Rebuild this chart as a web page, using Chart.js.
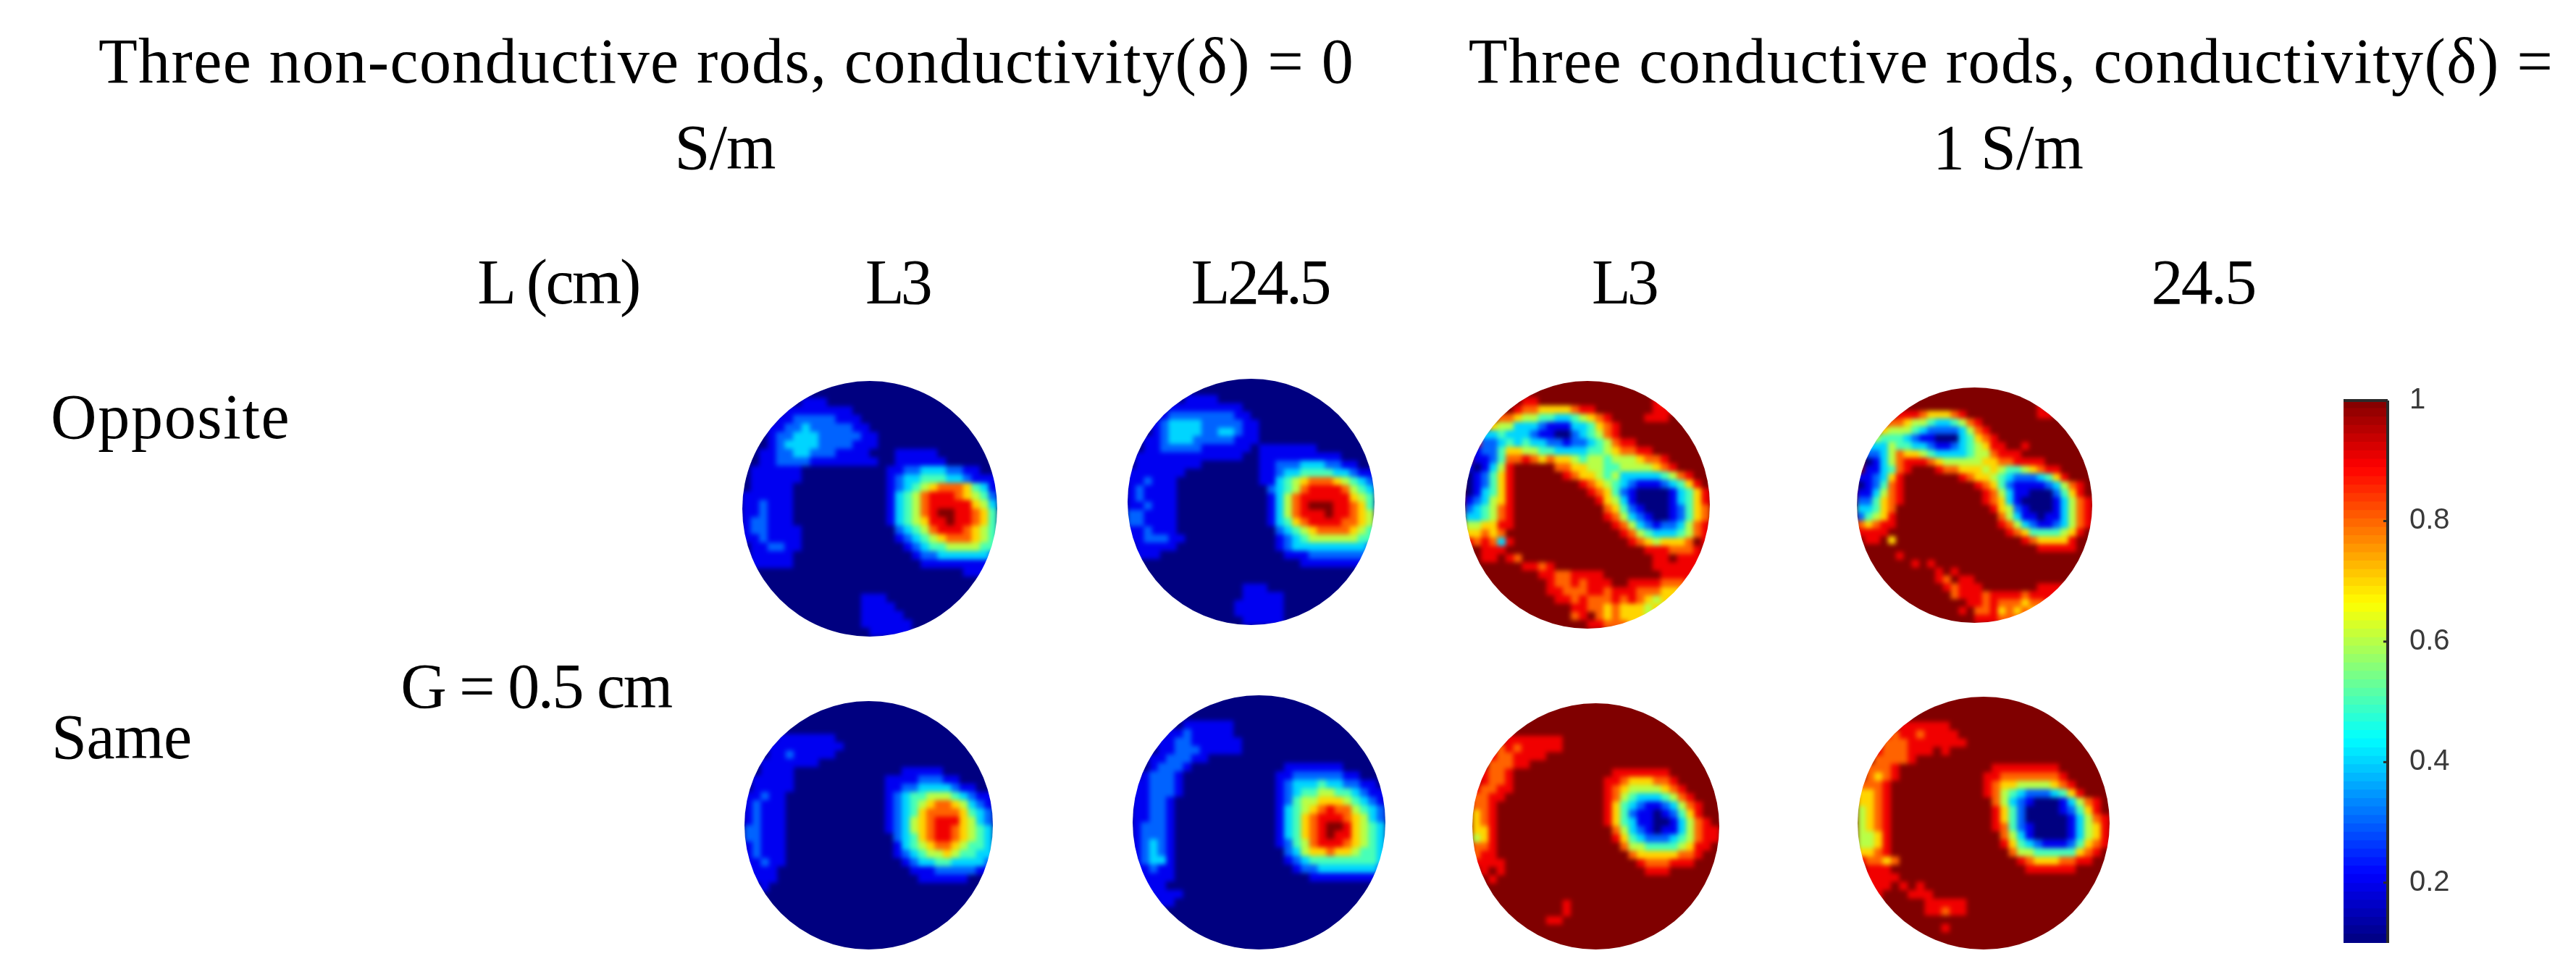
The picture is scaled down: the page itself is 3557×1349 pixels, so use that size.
<!DOCTYPE html>
<html lang="en">
<head>
<meta charset="UTF-8" />
<title>Three rods conductivity maps</title>
<style>
  html, body { margin: 0; padding: 0; background: #fff; width: 3557px; height: 1349px; overflow: hidden; }
  .lbl { position: absolute; font-family: "Liberation Serif", serif; font-size: 88px; color: #000; white-space: nowrap; line-height: 1; }
  .mid { transform: translate(-50%, -50%); }
  .left { transform: translate(0, -50%); }
  canvas { position: absolute; }
  canvas.disc { filter: blur(3px); padding: 12px; }
</style>
</head>
<body>
<script src="https://cdn.jsdelivr.net/npm/chart.js"></script>
<script>
// one digit per cell: index into levelValues
const levelValues = [0.1, 0.2, 0.3, 0.4, 0.5, 0.6, 0.7, 0.8, 0.9, 1.0];

const oppositeL3Plain = [
"00000 00000 00000 00000 00000 00000",
"00000 00000 00000 00000 00000 00000",
"00000 00111 00000 00000 00000 00000",
"00000 11111 11100 00000 00000 00000",
"00001 12222 21110 00000 00000 00000",
"00011 22322 22211 00000 00000 00000",
"00012 23332 22221 10000 00000 00000",
"00012 33332 22211 10000 00000 00000",
"00112 23322 21111 00011 11100 00000",
"00112 22211 11111 10011 11110 00000",
"01111 11000 00000 00112 23332 21100",
"01111 11000 00000 00123 34443 32111",
"01111 10000 00000 00123 45677 76431",
"11111 10000 00000 00134 57888 76542",
"11211 10000 00000 00134 57888 88653",
"11211 10000 00000 00134 57899 88764",
"12211 10000 00000 00134 56889 88764",
"12211 11000 00000 00023 45788 87654",
"11211 11000 00000 00012 34567 77654",
"01122 11000 00000 00001 23445 55544",
"01111 10000 00000 00000 12233 33332",
"01111 10000 00000 00000 01111 11111",
"00000 00000 00000 00000 00000 01110",
"00000 00000 00000 00000 00000 00000",
"00000 00000 00000 00000 00000 00000",
"00000 00000 00001 11000 00000 00000",
"00000 00000 00001 11100 00000 00000",
"00000 00000 00001 11110 00000 00000",
"00000 00000 00001 11111 00000 00000",
"00000 00000 00000 11111 00000 00000"
];

const oppositeL245Plain = [
"00000 00000 00000 00000 00000 00000",
"00000 00000 00000 00000 00000 00000",
"00000 00111 10000 00000 00000 00000",
"00000 11111 11110 00000 00000 00000",
"00001 22222 22211 00000 00000 00000",
"00012 33332 22221 10000 00000 00000",
"00012 33332 23321 10000 00000 00000",
"00112 33322 22211 10000 00000 00000",
"00112 22221 11111 01111 11100 00000",
"01111 11111 11110 01111 11111 10000",
"01111 11110 00000 01122 23332 21100",
"11111 11000 00000 01123 34444 33211",
"11211 10000 00000 01134 56777 65432",
"12111 10000 00000 00234 57888 87543",
"12111 10000 00000 00135 78888 88654",
"11211 10000 00000 00135 78999 88764",
"22111 10000 00000 00135 78889 88765",
"22111 10000 00000 00134 67888 87765",
"11211 10000 00000 00023 45677 77654",
"11222 11000 00000 00012 34555 55544",
"01111 10000 00000 00012 33333 33332",
"01110 00000 00000 00001 11222 22221",
"00000 00000 00000 00000 01111 11110",
"00000 00000 00000 00000 00000 00000",
"00000 00000 00000 00000 00000 00000",
"00000 00000 00001 11000 00000 00000",
"00000 00000 00001 11110 00000 00000",
"00000 00000 00011 11110 00000 00000",
"00000 00000 00011 11110 00000 00000",
"00000 00000 00001 11110 00000 00000"
];

const oppositeL3Conductive = [
"99999 99999 99999 99999 99999 99999",
"99999 99999 99999 99999 99999 99999",
"99999 99889 99999 99999 99987 99999",
"99999 98776 66678 89999 99988 88999",
"99997 76554 43345 67899 99888 99999",
"99965 53332 11133 46789 99999 99999",
"99334 33321 10023 45789 99999 99999",
"98223 43433 22122 34578 89999 99999",
"91224 66554 43333 44567 78899 99999",
"91124 77876 76654 55455 56778 99999",
"10135 89999 97766 55445 55567 89999",
"01246 89999 99876 65453 33334 57899",
"01246 89999 99998 76543 21112 34689",
"01346 89999 99999 87642 10000 13468",
"12356 89999 99999 98653 10000 13468",
"23457 89999 99999 99764 21000 12467",
"33457 89999 99999 99875 32100 12467",
"55668 89999 99999 99987 53212 23578",
"66767 99999 99999 99998 75433 34578",
"87873 89999 99999 99999 87656 66798",
"99888 99999 99999 99999 99888 77789",
"99889 87999 99999 99999 99988 98889",
"99999 99887 89999 99999 99988 88889",
"99999 99998 87788 88999 99998 88899",
"99999 99999 87787 88899 88887 77889",
"99999 99999 88777 88788 87776 66789",
"99999 99999 98878 77787 87656 67899",
"99999 99999 99988 77676 66565 69999",
"99999 99999 99978 97676 66566 99999",
"99999 99999 99999 88777 66699 99999"
];

const oppositeL245Conductive = [
"99999 99999 99999 99999 99999 99999",
"99999 99999 99999 99999 99999 99999",
"99999 99999 99999 99999 99989 99999",
"99999 88876 66789 99999 99988 99999",
"99987 76554 33457 89999 99999 99999",
"99965 55432 22235 78999 99999 99999",
"99544 43211 00034 67899 99999 99999",
"93335 44332 11234 56889 98999 99999",
"92235 76654 33334 55788 89999 99999",
"90135 78887 65555 56677 88889 99999",
"91134 78999 87766 65654 45678 89999",
"11236 89999 99987 66543 22234 68999",
"01247 89999 99999 87642 11112 35789",
"11357 89999 99999 98753 11000 24689",
"22467 89999 99999 98763 10000 13578",
"33467 99999 99999 99865 21000 13578",
"24568 99999 99999 99975 31101 13578",
"76788 99999 99999 99987 53211 23578",
"88889 99999 99999 99998 76444 45689",
"98896 99999 99999 99999 98766 66899",
"99999 99999 99999 99999 99988 88899",
"99999 89999 99999 99999 99999 99999",
"99999 99898 99999 99999 99999 99999",
"99999 99999 89899 99999 99999 99999",
"99999 99999 87988 99999 99999 99999",
"99999 99999 98788 89999 99988 88899",
"99999 99999 99788 87888 87888 88999",
"99999 99999 99998 87877 76778 89999",
"99999 99999 99989 77867 67667 99999",
"99999 99999 99999 88877 77999 99999"
];

const sameL3Plain = [
"00000 00000 00000 00000 00000 00000",
"00000 00000 00000 00000 00000 00000",
"00000 00000 00000 00000 00000 00000",
"00000 00000 00000 00000 00000 00000",
"00001 11111 10000 00000 00000 00000",
"00011 11111 11000 00000 00000 00000",
"00011 21111 10000 00000 00000 00000",
"00111 11110 00000 00000 00000 00000",
"00111 10000 00000 00001 11110 00000",
"01111 10000 00000 00111 12221 10000",
"01111 10000 00000 00112 23333 21100",
"11211 00000 00000 00123 44555 43211",
"12111 00000 00000 00123 45677 65321",
"12111 00000 00000 00123 46777 76432",
"12111 00000 00000 00123 56788 86532",
"22111 00000 00000 00123 56788 76543",
"22111 00000 00000 00023 46788 76543",
"12111 00000 00000 00013 45677 65443",
"12111 00000 00000 00012 34556 54433",
"11211 00000 00000 00001 23344 33332",
"11110 00000 00000 00000 11122 22211",
"01110 00000 00000 00000 01111 11000",
"00100 00000 00000 00000 00000 00000",
"00000 00000 00000 00000 00000 00000",
"00000 00000 00000 00000 00000 00000",
"00000 00000 00000 00000 00000 00000",
"00000 00000 00000 00000 00000 00000",
"00000 00000 00000 00000 00000 00000",
"00000 00000 00000 00000 00000 00000",
"00000 00000 00000 00000 00000 00000"
];

const sameL245Plain = [
"00000 00000 00000 00000 00000 00000",
"00000 00000 00000 00000 00000 00000",
"00000 00000 00000 00000 00000 00000",
"00000 01111 11000 00000 00000 00000",
"00001 12111 11000 00000 00000 00000",
"00011 22111 11100 00000 00000 00000",
"00011 22211 11100 00000 00000 00000",
"00112 22110 00000 00000 00000 00000",
"00122 21000 00000 00011 11111 00000",
"01222 10000 00000 00112 22222 11000",
"11222 10000 00000 00123 33433 22110",
"11222 10000 00000 00123 44554 43211",
"11221 00000 00000 00124 55666 54321",
"11221 00000 00000 00134 56787 75432",
"11221 00000 00000 00134 67888 76532",
"12221 00000 00000 00134 67899 86543",
"12221 00000 00000 00134 67898 86543",
"12321 00000 00000 00124 57888 76543",
"12321 00000 00000 00023 56676 65443",
"12331 00000 00000 00012 34444 44443",
"11211 00000 00000 00001 22333 33332",
"11111 00000 00000 00000 01111 11110",
"01110 00000 00000 00000 00000 00000",
"01111 10000 00000 00000 00000 00000",
"00011 00000 00000 00000 00000 00000",
"00000 00000 00000 00000 00000 00000",
"00000 00000 00000 00000 00000 00000",
"00000 00000 00000 00000 00000 00000",
"00000 00000 00000 00000 00000 00000",
"00000 00000 00000 00000 00000 00000"
];

const sameL3Conductive = [
"99999 99999 99999 99999 99999 99999",
"99999 99999 99999 99999 99999 99999",
"99999 99999 99999 99999 99999 99999",
"99999 99999 99999 99999 99999 99999",
"99998 88888 89999 99999 99999 99999",
"99978 78888 89999 99999 99999 99999",
"99877 88889 99999 99999 99999 99999",
"99777 88999 99999 99999 99999 99999",
"98778 99999 99999 99888 88889 99999",
"98778 99999 99999 98876 66778 99999",
"87788 99999 99999 98765 55567 89999",
"77889 99999 99999 98754 33345 78999",
"77899 99999 99999 98643 21123 57899",
"67899 99999 99999 98642 11012 46899",
"67899 99999 99999 98643 11001 35789",
"66899 99999 99999 99753 21011 35788",
"56899 99999 99999 99864 32223 45788",
"77899 99999 99999 99975 54444 56889",
"78899 99999 99999 99997 66666 77899",
"88889 99999 99999 99999 87778 88999",
"98989 99999 99999 99999 98889 99999",
"99899 99999 99999 99999 99999 99999",
"99999 99999 99999 99999 99999 99999",
"99999 99999 99999 99999 99999 99999",
"99999 99999 98999 99999 99999 99999",
"99999 99999 98999 99999 99999 99999",
"99999 99998 89999 99999 99999 99999",
"99999 99999 99999 99999 99999 99999",
"99999 99999 99999 99999 99999 99999",
"99999 99999 99999 99999 99999 99999"
];

const sameL245Conductive = [
"99999 99999 99999 99999 99999 99999",
"99999 99999 99999 99999 99999 99999",
"99999 99999 99999 99999 99999 99999",
"99999 88888 89999 99999 99999 99999",
"99987 88788 88999 99999 99999 99999",
"99977 78888 88899 99999 99999 99999",
"99877 78889 89999 99999 99999 99999",
"99777 78999 99999 99999 99999 99999",
"97778 99999 99999 98888 88889 99999",
"97678 99999 99999 88777 77778 99999",
"77789 99999 99999 87665 55567 89999",
"66789 99999 99999 87543 22234 68999",
"66789 99999 99999 97532 10001 35789",
"56789 99999 99999 98642 00001 24689",
"56789 99999 99999 98642 00000 13578",
"56789 99999 99999 98742 10000 13568",
"55689 99999 99999 99753 10000 13568",
"55689 99999 99999 99864 32111 24678",
"66789 99999 99999 99975 54444 46789",
"87767 99999 99999 99998 76667 78899",
"98889 99999 99999 99999 88888 89999",
"98888 99999 99999 99999 99999 99999",
"98889 89899 99999 99999 99999 99999",
"99899 98889 99999 99999 99999 99999",
"99999 99988 88899 99999 99999 99999",
"99999 99988 78899 99999 99999 99999",
"99999 99999 99999 99999 99999 99999",
"99999 99999 89999 99999 99999 99999",
"99999 99999 99999 99999 99999 99999",
"99999 99999 99999 99999 99999 99999"
];

// colour bar
const colorbarEdges = [0.100,0.114,0.128,0.142,0.156,0.170,0.184,0.198,0.213,0.227,0.241,0.255,0.269,0.283,0.297,0.311,
  0.325,0.339,0.353,0.367,0.381,0.395,0.409,0.423,0.438,0.452,0.466,0.480,0.494,0.508,0.522,0.536,
  0.550,0.564,0.578,0.592,0.606,0.620,0.634,0.648,0.663,0.677,0.691,0.705,0.719,0.733,0.747,0.761,
  0.775,0.789,0.803,0.817,0.831,0.845,0.859,0.873,0.888,0.902,0.916,0.930,0.944,0.958,0.972,0.986,1.000];
const colorbarTicks = [0.2, 0.4, 0.6, 0.8, 1];
const colorbarTickLabels = ["0.2", "0.4", "0.6", "0.8", "1"];

// [x, y, width, height] of each map on the page
const discs = [
  { rows: oppositeL3Plain,        box: [1025, 526, 352, 353] },
  { rows: oppositeL245Plain,      box: [1557, 523, 341, 340] },
  { rows: oppositeL3Conductive,   box: [2023, 526, 338, 342] },
  { rows: oppositeL245Conductive, box: [2564, 535, 325, 325] },
  { rows: sameL3Plain,            box: [1028, 968, 343, 343] },
  { rows: sameL245Plain,          box: [1564, 960, 349, 351] },
  { rows: sameL3Conductive,       box: [2033, 971, 341, 340] },
  { rows: sameL245Conductive,     box: [2565, 962, 348, 349] }
];

// text, centre or left x, centre y, class, letter spacing
const texts = [
  ["Three non-conductive rods, conductivity(δ) = 0", 1003, 85, "mid", 1.4],
  ["S/m", 1001, 204, "mid", -1],
  ["Three conductive rods, conductivity(δ) =", 2777, 85, "mid", 1.4],
  ["1 S/m", 2773, 204, "mid", 0],
  ["L (cm)", 771, 390, "mid", -2.5],
  ["L3", 1239, 390, "mid", -5],
  ["L24.5", 1740, 390, "mid", -3.5],
  ["L3", 2242, 390, "mid", -5],
  ["24.5", 3042, 390, "mid", -2.7],
  ["Opposite", 70, 576, "left", 1.7],
  ["G = 0.5 cm", 740, 948, "mid", -2.3],
  ["Same", 71, 1018, "left", -0.5]
];

texts.forEach(([str, x, y, cls, spacing]) => {
  const d = document.createElement("div");
  d.className = "lbl " + cls;
  d.textContent = str;
  d.style.left = x + "px";
  d.style.top = y + "px";
  d.style.letterSpacing = spacing + "px";
  document.body.appendChild(d);
});

// MATLAB jet over the colour bar range
function jet(v) {
  const t = (v - 0.1) / 0.9;
  const ch = o => Math.round(255 * Math.max(0, Math.min(1, 1.5 - Math.abs(4 * t - o))));
  return `rgb(${ch(3)},${ch(2)},${ch(1)})`;
}

function addCanvas(x, y, w, h, cls) {
  const c = document.createElement("canvas");
  c.width = w;
  c.height = h;
  c.style.left = x + "px";
  c.style.top = y + "px";
  c.style.width = w + "px";
  c.style.height = h + "px";
  c.style.boxSizing = "content-box";
  if (cls) c.className = cls;
  document.body.appendChild(c);
  return c;
}

const cellsAcross = 30;
const discPad = 12;

discs.forEach(({ rows, box }) => {
  const [x, y, w, h] = box;
  const points = [];
  const colors = [];
  rows.forEach((row, r) => {
    row.replace(/ /g, "").split("").forEach((ch, c) => {
      points.push({ x: c + 0.5, y: r + 0.5 });
      colors.push(jet(levelValues[+ch]));
    });
  });
  const canvas = addCanvas(x - discPad, y - discPad, w, h, "disc");
  // the padding keeps the blur's soft border away from the round clip
  canvas.style.background = jet(levelValues[+rows[0][0]]);
  canvas.style.clipPath = `ellipse(${w / 2}px ${h / 2}px at center)`;
  new Chart(canvas, {
    type: "scatter",
    data: {
      datasets: [{
        data: points,
        pointStyle: "rect",
        pointRadius: (w / cellsAcross) / Math.SQRT2 + 0.6,
        pointBackgroundColor: colors,
        pointBorderWidth: 0,
        clip: false
      }]
    },
    options: {
      responsive: false,
      animation: false,
      events: [],
      // no inset for the point size, cells must fill the whole canvas
      layout: { padding: 0, autoPadding: false },
      plugins: { legend: { display: false }, tooltip: { enabled: false } },
      scales: {
        x: { type: "linear", min: 0, max: cellsAcross, display: false },
        y: { type: "linear", min: 0, max: cellsAcross, reverse: true, display: false }
      }
    }
  });
});

// colour bar: one floating bar per colour step, ticks come from the y scale
const barFrame = {
  id: "barFrame",
  afterDraw(chart) {
    const { ctx, chartArea: a, scales } = chart;
    ctx.save();
    ctx.strokeStyle = "#2b2b2b";
    ctx.lineWidth = 4;
    ctx.beginPath();
    ctx.moveTo(a.left, a.top);
    ctx.lineTo(a.right, a.top);
    ctx.moveTo(a.right, a.top);
    ctx.lineTo(a.right, a.bottom);
    ctx.stroke();
    ctx.lineWidth = 3;
    colorbarTicks.forEach(v => {
      const py = scales.y.getPixelForValue(v);
      ctx.beginPath();
      ctx.moveTo(a.right - 6, py);
      ctx.lineTo(a.right, py);
      ctx.stroke();
    });
    ctx.restore();
  }
};

new Chart(addCanvas(3236, 507, 321, 841), {
  type: "bar",
  data: {
    labels: ["bar"],
    datasets: colorbarEdges.slice(0, -1).map((lo, i) => ({
      data: [[lo, colorbarEdges[i + 1] + 0.001]],
      backgroundColor: jet((lo + colorbarEdges[i + 1]) / 2),
      grouped: false,
      barPercentage: 1,
      categoryPercentage: 1,
      borderWidth: 0
    }))
  },
  options: {
    responsive: false,
    animation: false,
    events: [],
    layout: { padding: 0 },
    plugins: { legend: { display: false }, tooltip: { enabled: false } },
    scales: {
      x: { display: false },
      y: {
        type: "linear",
        position: "right",
        min: 0.1,
        max: 1,
        afterBuildTicks: s => { s.ticks = colorbarTicks.map(v => ({ value: v })); },
        afterFit: s => { s.width = 260; },
        grid: { display: false },
        border: { display: false },
        ticks: {
          autoSkip: false,
          padding: 22,
          color: "#3a3a3a",
          font: { family: "Liberation Sans", size: 40 },
          callback: v => colorbarTickLabels[colorbarTicks.indexOf(v)]
        }
      }
    }
  },
  plugins: [barFrame]
});
</script>
</body>
</html>
